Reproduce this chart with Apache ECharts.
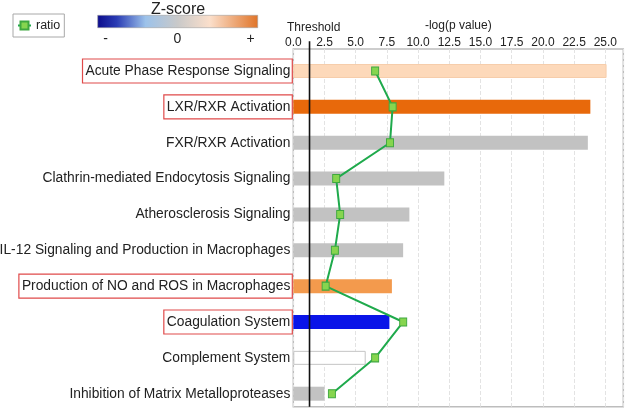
<!DOCTYPE html>
<html>
<head>
<meta charset="utf-8">
<script src="https://cdn.jsdelivr.net/npm/echarts@6/dist/echarts.min.js"></script>
<style>
html,body{margin:0;padding:0;background:#fff;}
#chart{width:625px;height:409px;}
</style>
</head>
<body>
<div id="chart"></div>
<script>
// ---- data ----
const categories = [
  'Acute Phase Response Signaling',
  'LXR/RXR Activation',
  'FXR/RXR Activation',
  'Clathrin-mediated Endocytosis Signaling',
  'Atherosclerosis Signaling',
  'IL-12 Signaling and Production in Macrophages',
  'Production of NO and ROS in Macrophages',
  'Coagulation System',
  'Complement System',
  'Inhibition of Matrix Metalloproteases'
];
const pValues = [25.1, 23.8, 23.6, 12.1, 9.3, 8.8, 7.9, 7.7, 5.8, 2.5];
const ratios  = [0.248, 0.301, 0.293, 0.130, 0.142, 0.126, 0.098, 0.333, 0.248, 0.117];
const zScores = [0.5, 2.8, null, null, null, null, 1.5, -2.8, 0, null];
const highlighted = [true, true, false, false, false, false, true, true, false, false];
const threshold = 1.3;
const axisMax = 26.44;
const tickInterval = 2.5;
const zLegendLabels = ['-', '0', '+'];

// ---- styling helpers ----
const FONT = "'Liberation Sans', Arial, sans-serif";
const LABEL_SIZE = 13.8;
function styleForZ(z) {
  if (z === null) return { color: '#c2c2c2' };
  if (z === 0) return { color: '#ffffff', borderColor: '#c4c4c4', borderWidth: 1 };
  if (z >= 2) return { color: '#e8690b' };
  if (z >= 1) return { color: '#f39a4d' };
  if (z > 0) return { color: '#fdd9ba', borderColor: '#f6cdaa', borderWidth: 1 };
  return { color: '#0a14e8' };
}

const chart = echarts.init(document.getElementById('chart'), null, { renderer: 'canvas' });

const option = {
  animation: false,
  backgroundColor: '#ffffff',
  textStyle: { fontFamily: FONT },
  legend: {
    data: ['ratio'],
    left: 13, top: 14,
    padding: [5, 4, 5, 4],
    borderColor: '#a8a8a8', borderWidth: 1,
    itemWidth: 13, itemHeight: 10,
    textStyle: { fontSize: 12.5, color: '#222', fontFamily: FONT }
  },
  grid: [
    { left: 293.3, right: 1.7, top: 53.07, height: 358.56, containLabel: false, outerBoundsMode: 'none' },
    { left: 293.3, right: 1.7, top: 49, bottom: 2.3, show: true, borderColor: '#bdbdbd', borderWidth: 1.5, backgroundColor: 'transparent', containLabel: false, outerBoundsMode: 'none' }
  ],
  xAxis: [
    { gridIndex: 0, type: 'value', min: 0, max: axisMax, show: false },
    { gridIndex: 0, type: 'value', min: 0, max: 1, show: false },
    {
      gridIndex: 1, type: 'value', position: 'top', min: 0, max: axisMax, interval: tickInterval,
      axisLine: { show: false }, axisTick: { show: false },
      axisLabel: { fontSize: 12, color: '#222', margin: 0, showMaxLabel: false, fontFamily: FONT,
        formatter: v => v.toFixed(1) },
      splitLine: { show: true, lineStyle: { type: 'dashed', color: '#e3e3e3', width: 1 } },
      name: '-log(p value)', nameLocation: 'middle', nameGap: 15,
      nameTextStyle: { fontSize: 12, color: '#222', fontFamily: FONT }
    }
  ],
  yAxis: [
    {
      gridIndex: 0, type: 'category', data: categories, inverse: true,
      axisLine: { show: false }, axisTick: { show: false },
      axisLabel: {
        margin: 1, fontSize: LABEL_SIZE, color: '#222', fontFamily: FONT,
        formatter: (v, i) => (highlighted[i] ? '{hl|' + v + '}' : '{n|' + v + '}'),
        rich: {
          hl: { fontSize: LABEL_SIZE, lineHeight: 15, padding: [5, 2, 5, 3], borderColor: '#e04a4a', borderWidth: 1.2, color: '#222', fontFamily: FONT },
          n: { fontSize: LABEL_SIZE, lineHeight: 15, padding: [5, 2, 5, 3], color: '#222', fontFamily: FONT }
        }
      }
    },
    { gridIndex: 1, type: 'value', min: 0, max: 1, show: false }
  ],
  series: [
    {
      type: 'bar', name: '-log(p value)', xAxisIndex: 0, yAxisIndex: 0,
      barWidth: 14,
      data: pValues.map((v, i) => ({ value: v, itemStyle: styleForZ(zScores[i]) })),
      z: 2
    },
    {
      type: 'line', name: 'ratio', xAxisIndex: 1, yAxisIndex: 0,
      data: ratios,
      symbol: 'rect', symbolSize: [7, 8],
      lineStyle: { color: '#1faa4c', width: 2 },
      itemStyle: { color: '#86d54f', borderColor: '#3ea83f', borderWidth: 1 },
      z: 5
    },
    {
      type: 'line', name: 'threshold', xAxisIndex: 2, yAxisIndex: 1,
      data: [[threshold, 1.022], [threshold, 0]],
      symbol: 'none', clip: false, silent: true,
      lineStyle: { color: '#111', width: 1.6 },
      z: 4
    }
  ],
  graphic: [
    { type: 'text', left: 287, top: 22, style: { text: 'Threshold', fontSize: 12, fill: '#222', fontFamily: FONT } },
    { type: 'text', x: 178, y: 10, style: { text: 'Z-score', fontSize: 16, fill: '#222', fontFamily: FONT, align: 'center', verticalAlign: 'middle' } },
    {
      type: 'rect', shape: { x: 97.7, y: 15.3, width: 160, height: 12.4 },
      style: {
        stroke: '#a0a0a0', lineWidth: 0.6,
        fill: new echarts.graphic.LinearGradient(0, 0, 1, 0, [
          { offset: 0, color: '#0c0c8c' },
          { offset: 0.12, color: '#2a3cb4' },
          { offset: 0.3, color: '#9cc2ea' },
          { offset: 0.5, color: '#c9c9c9' },
          { offset: 0.7, color: '#fbdfcb' },
          { offset: 1, color: '#e07428' }
        ])
      }
    },
    { type: 'text', x: 105.7, y: 39, style: { text: zLegendLabels[0], fontSize: 14, fill: '#222', fontFamily: FONT, align: 'center', verticalAlign: 'middle' } },
    { type: 'text', x: 177.3, y: 39, style: { text: zLegendLabels[1], fontSize: 14, fill: '#222', fontFamily: FONT, align: 'center', verticalAlign: 'middle' } },
    { type: 'text', x: 250.7, y: 39, style: { text: zLegendLabels[2], fontSize: 14, fill: '#222', fontFamily: FONT, align: 'center', verticalAlign: 'middle' } }
  ]
};
chart.setOption(option);
</script>
</body>
</html>
